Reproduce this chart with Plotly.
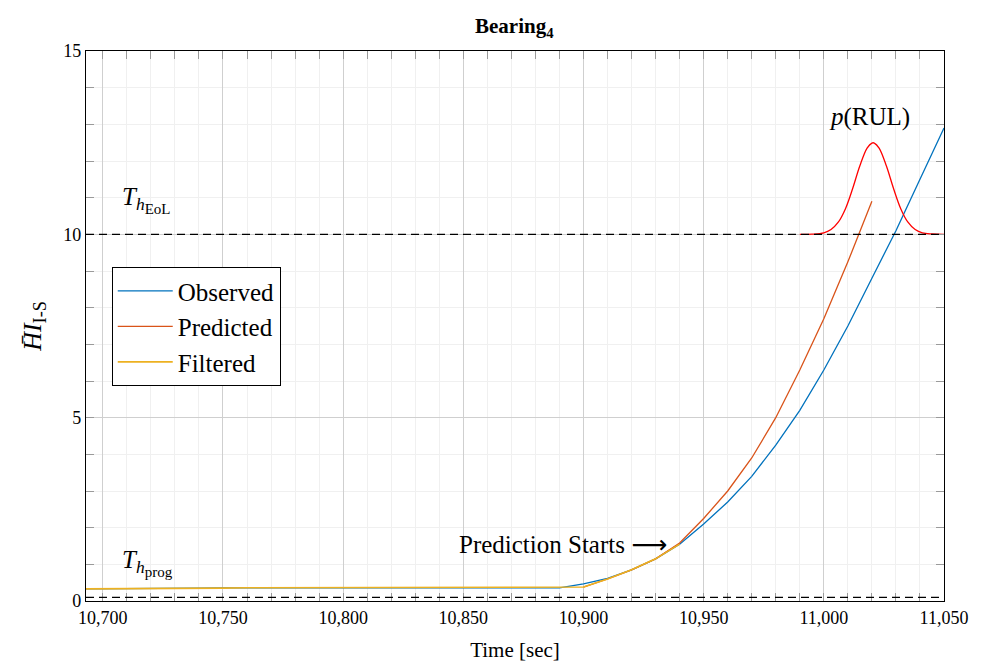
import plotly.graph_objects as go

# ---------------- data ----------------
obs_t = [10693, 10700, 10710, 10720, 10730, 10740, 10750, 10760, 10770, 10780, 10790, 10800,
         10810, 10820, 10830, 10840, 10850, 10860, 10870, 10880, 10890, 10900, 10910, 10920,
         10930, 10940, 10950, 10960, 10970, 10980, 10990, 11000, 11010, 11020, 11030, 11040, 11050]
obs_v = [0.33, 0.33, 0.34, 0.34, 0.35, 0.35, 0.36, 0.36, 0.37, 0.37, 0.38, 0.38,
         0.38, 0.38, 0.37, 0.37, 0.36, 0.36, 0.36, 0.36, 0.36, 0.47, 0.62, 0.85,
         1.15, 1.55, 2.10, 2.70, 3.40, 4.25, 5.20, 6.30, 7.50, 8.80, 10.10, 11.50, 12.90]

pred_t = [10900, 10910, 10920, 10930, 10940, 10950, 10960, 10970, 10980, 10990, 11000, 11010, 11020]
pred_v = [0.38, 0.60, 0.85, 1.15, 1.58, 2.25, 3.00, 3.90, 5.00, 6.30, 7.70, 9.25, 10.90]

filt_t = [10693, 10700, 10710, 10720, 10730, 10740, 10750, 10760, 10770, 10780, 10790, 10800,
          10810, 10820, 10830, 10840, 10850, 10860, 10870, 10880, 10890, 10900, 10910, 10920,
          10930, 10940]
filt_v = [0.33, 0.33, 0.34, 0.34, 0.35, 0.35, 0.35, 0.36, 0.36, 0.36, 0.36, 0.36,
          0.36, 0.36, 0.36, 0.36, 0.36, 0.36, 0.36, 0.36, 0.36, 0.38, 0.60, 0.85,
          1.15, 1.55]

rul_t = [10990, 10995, 11000, 11003, 11006, 11009, 11012, 11015, 11018, 11020, 11021,
         11023, 11026, 11029, 11032, 11035, 11038, 11041, 11045, 11050]
rul_v = [10.00, 10.005, 10.04, 10.13, 10.33, 10.70, 11.25, 11.87, 12.35, 12.49, 12.49,
         12.35, 11.87, 11.25, 10.70, 10.33, 10.13, 10.04, 10.01, 10.00]

th_eol = 10.0
th_prog = 0.1
x_range = [10693, 11050]
y_range = [0, 15]
x_ticks = [10700, 10750, 10800, 10850, 10900, 10950, 11000, 11050]
y_ticks = [0, 5, 10, 15]

FONT = "Liberation Serif, DejaVu Serif, serif"

fig = go.Figure()
fig.add_trace(go.Scatter(x=obs_t, y=obs_v, mode="lines", name="Observed",
                         line=dict(color="#0072BD", width=1.3)))
fig.add_trace(go.Scatter(x=pred_t, y=pred_v, mode="lines", name="Predicted",
                         line=dict(color="#D95319", width=1.3)))
fig.add_trace(go.Scatter(x=filt_t, y=filt_v, mode="lines", name="Filtered",
                         line=dict(color="#EDB120", width=1.6)))
fig.add_trace(go.Scatter(x=rul_t, y=rul_v, mode="lines", name="p(RUL)", showlegend=False,
                         line=dict(color="#FF0000", width=1.3, shape="spline")))

for th in (th_eol, th_prog):
    fig.add_shape(type="line", xref="paper", x0=0, x1=1, yref="y", y0=th, y1=th,
                  line=dict(color="black", width=1.1, dash="8px,5px"), layer="above")

ann_font = dict(family=FONT, size=25, color="black")
fig.add_annotation(x=10707, y=10.95, xref="x", yref="y", showarrow=False, xanchor="left",
                   text="<i>T</i><sub><i>h</i><sub><span style='font-size:15px'>EoL</span></sub></sub>",
                   font=ann_font)
fig.add_annotation(x=10707, y=1.05, xref="x", yref="y", showarrow=False, xanchor="left",
                   text="<i>T</i><sub><i>h</i><sub><span style='font-size:15px'>prog</span></sub></sub>",
                   font=ann_font)
fig.add_annotation(x=10935.5, y=1.55, xref="x", yref="y", showarrow=False, xanchor="right",
                   text="Prediction Starts <span style='font-family:DejaVu Sans'>⟶</span>",
                   font=dict(family=FONT, size=25, color="black"))
fig.add_annotation(x=11019, y=13.2, xref="x", yref="y", showarrow=False,
                   text="<i>p</i>(RUL)", font=dict(family=FONT, size=25, color="black"))

fig.update_layout(
    width=989, height=666,
    margin=dict(l=86, r=45, t=51, b=65),
    paper_bgcolor="white", plot_bgcolor="white",
    font=dict(family=FONT, color="black", size=16),
    title=dict(text="<b>Bearing<sub>4</sub></b>", x=0.52, xanchor="center",
               y=1 - 26 / 666, yanchor="middle",
               font=dict(family=FONT, size=21, color="black")),
    legend=dict(x=0.03, y=0.607, xanchor="left", yanchor="top",
                bordercolor="black", borderwidth=1, bgcolor="white",
                font=dict(family=FONT, size=25, color="black"),
                tracegroupgap=0, itemwidth=55),
    showlegend=True,
)
fig.update_xaxes(
    range=x_range, tickvals=x_ticks, tickformat=",d", automargin=False,
    showline=True, linecolor="black", linewidth=1.2, mirror="allticks",
    ticks="inside", ticklen=8, tickcolor="#9a9a9a", tickwidth=1,
    showgrid=True, gridcolor="#cfcfcf", gridwidth=1, zeroline=False,
    tickfont=dict(family=FONT, size=18),
    title=dict(text="Time [sec]", font=dict(family=FONT, size=21), standoff=15),
    minor=dict(dtick=10, tick0=10700, ticks="inside", ticklen=8, tickcolor="#9a9a9a",
               showgrid=True, gridcolor="#f0f0f0", gridwidth=1),
)
fig.update_yaxes(
    range=y_range, tickvals=y_ticks, automargin=False,
    showline=True, linecolor="black", linewidth=1.2, mirror="allticks",
    ticks="inside", ticklen=8, tickcolor="#9a9a9a", tickwidth=1,
    showgrid=True, gridcolor="#cfcfcf", gridwidth=1, zeroline=False,
    tickfont=dict(family=FONT, size=18),
    title=dict(text="<i>H\u0304I</i><sub>I-S</sub>", font=dict(family=FONT, size=26), standoff=14),
    minor=dict(dtick=1, tick0=0, ticks="inside", ticklen=8, tickcolor="#9a9a9a",
               showgrid=True, gridcolor="#f0f0f0", gridwidth=1),
)

fig.write_html("out.html", config={"displayModeBar": False},
               post_script="document.body.style.margin='0';document.body.style.overflow='hidden';")
